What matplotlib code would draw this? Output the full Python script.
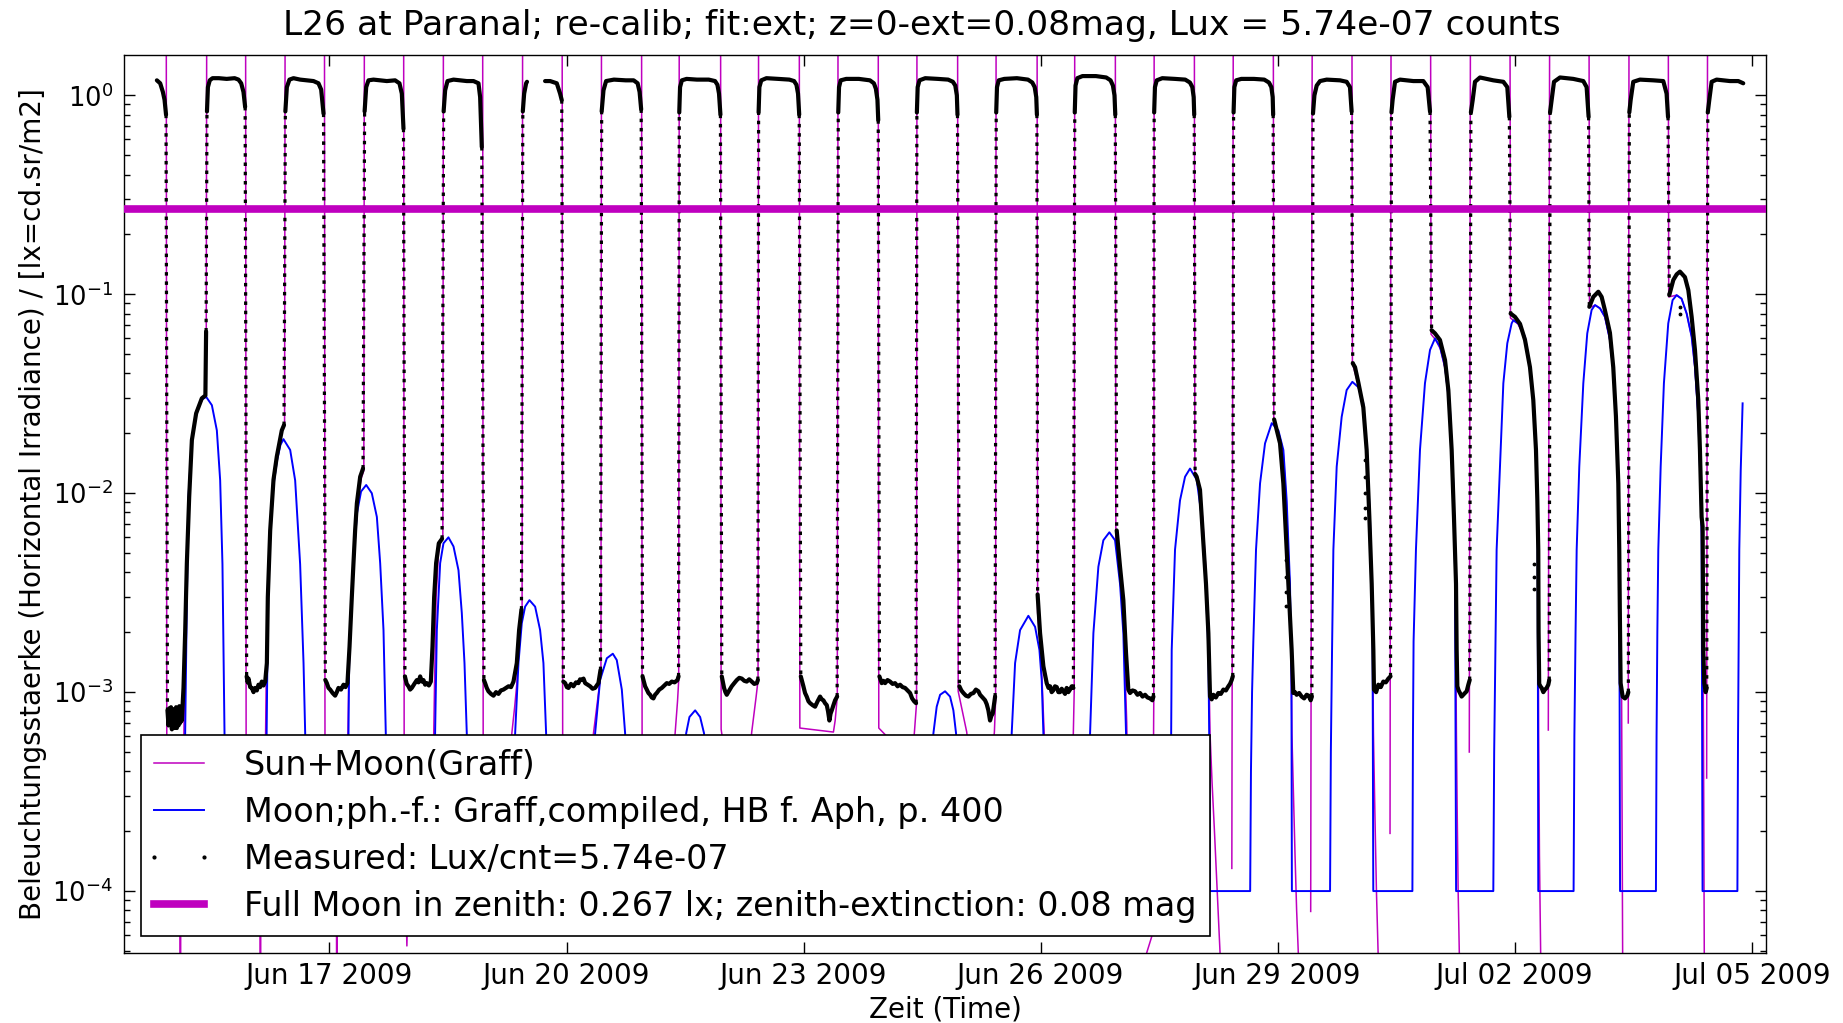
import numpy as np
import matplotlib
matplotlib.use("Agg")
import matplotlib.pyplot as plt
import matplotlib.dates as mdates
from matplotlib.lines import Line2D
from matplotlib.legend_handler import HandlerLine2D
from datetime import datetime

nan = float("nan")

# ---------------------------------------------------------------- texts
TITLE = "L26 at Paranal; re-calib; fit:ext; z=0-ext=0.08mag, Lux = 5.74e-07 counts"
XLABEL = "Zeit (Time)"
YLABEL = "Beleuchtungsstaerke (Horizontal Irradiance) / [lx=cd.sr/m2]"
LABEL_SUNMOON = "Sun+Moon(Graff)"
LABEL_MOON = "Moon;ph.-f.: Graff,compiled, HB f. Aph, p. 400"
LABEL_MEAS = "Measured: Lux/cnt=5.74e-07"
LABEL_FULL = "Full Moon in zenith: 0.267 lx; zenith-extinction: 0.08 mag"

TICK_DATES = [datetime(2009, 6, 17), datetime(2009, 6, 20), datetime(2009, 6, 23),
              datetime(2009, 6, 26), datetime(2009, 6, 29), datetime(2009, 7, 2),
              datetime(2009, 7, 5)]
FULL_MOON_LUX = 0.267

# time values: days since 2009-06-14 00:00 UTC
T0 = datetime(2009, 6, 14)
X_RANGE_DAYS = (0.40, 21.18)
Y_RANGE = (4.9e-5, 1.59)

# ---------------------------------------------------------------- measured (lux)
MEASURED = [
    (0.816, 1.19), (0.858, 1.15), (0.892, 1.04), (0.913, 0.95), (0.932, 0.80),
    (0.950, 8.1e-4), (0.963, 6.8e-4), (0.974, 8.3e-4), (0.984, 7.0e-4), (0.995, 8.4e-4),
    (1.006, 6.5e-4), (1.017, 7.6e-4), (1.027, 8.2e-4), (1.038, 6.6e-4), (1.048, 7.3e-4),
    (1.059, 8.4e-4), (1.069, 6.6e-4), (1.080, 7.6e-4), (1.090, 6.8e-4), (1.100, 8.5e-4),
    (1.111, 7.0e-4), (1.122, 8.0e-4), (1.132, 7.2e-4),
    (1.153, 1.05e-3), (1.174, 2.0e-3), (1.195, 4.4e-3), (1.225, 9.6e-3), (1.259, 0.0185),
    (1.313, 0.0252), (1.385, 0.030), (1.430, 0.031), (1.439, 0.065),
    (1.450, 0.83), (1.462, 1.10), (1.485, 1.19), (1.52, 1.22), (1.60, 1.22), (1.70, 1.21),
    (1.80, 1.22), (1.849, 1.20), (1.883, 1.15), (1.912, 1.04), (1.933, 0.875),
    (1.952, 1.2e-3), (1.965, 1.12e-3), (1.976, 1.17e-3), (1.997, 1.06e-3), (2.018, 1.05e-3),
    (2.039, 1.0e-3), (2.060, 1.05e-3), (2.081, 1.02e-3), (2.102, 1.09e-3), (2.123, 1.06e-3),
    (2.144, 1.13e-3), (2.165, 1.08e-3), (2.187, 1.13e-3), (2.208, 1.40e-3), (2.220, 3.0e-3),
    (2.250, 6.5e-3), (2.292, 0.0117), (2.334, 0.0153), (2.397, 0.0207), (2.425, 0.022),
    (2.442, 0.83), (2.461, 1.10), (2.494, 1.20), (2.545, 1.22), (2.629, 1.20), (2.714, 1.19),
    (2.798, 1.18), (2.861, 1.15), (2.895, 1.07), (2.925, 0.81),
    (2.948, 1.15e-3), (2.967, 1.11e-3), (2.988, 1.05e-3), (3.009, 1.03e-3), (3.040, 9.9e-4),
    (3.072, 9.6e-4), (3.093, 1.0e-3), (3.114, 1.05e-3), (3.146, 1.03e-3), (3.178, 1.09e-3),
    (3.203, 1.06e-3), (3.228, 1.11e-3), (3.254, 1.69e-3), (3.283, 3.0e-3), (3.304, 4.45e-3),
    (3.325, 6.5e-3), (3.347, 8.9e-3), (3.389, 0.0121), (3.425, 0.0133),
    (3.445, 0.83), (3.465, 1.10), (3.494, 1.19), (3.557, 1.20), (3.642, 1.19), (3.726, 1.18),
    (3.831, 1.19), (3.886, 1.15), (3.916, 1.02), (3.937, 0.68),
    (3.955, 1.2e-3), (3.978, 1.1e-3), (4.000, 1.07e-3), (4.021, 1.03e-3), (4.042, 1.05e-3),
    (4.074, 1.1e-3), (4.106, 1.15e-3), (4.127, 1.12e-3), (4.148, 1.2e-3), (4.169, 1.13e-3),
    (4.190, 1.15e-3), (4.211, 1.09e-3), (4.232, 1.11e-3), (4.258, 1.08e-3), (4.283, 1.13e-3),
    (4.304, 1.69e-3), (4.325, 3.0e-3), (4.350, 4.45e-3), (4.384, 5.6e-3), (4.425, 5.9e-3),
    (4.445, 0.83), (4.464, 1.06), (4.494, 1.18), (4.570, 1.20), (4.654, 1.19), (4.738, 1.18),
    (4.823, 1.18), (4.886, 1.15), (4.907, 0.98), (4.928, 0.55),
    (4.955, 1.15e-3), (4.970, 1.11e-3), (4.991, 1.05e-3), (5.012, 1.01e-3), (5.044, 9.8e-4),
    (5.076, 9.6e-4), (5.108, 1.0e-3), (5.139, 9.8e-4), (5.170, 1.02e-3), (5.202, 1.03e-3),
    (5.234, 1.05e-3), (5.266, 1.07e-3), (5.298, 1.06e-3), (5.329, 1.13e-3), (5.371, 1.40e-3),
    (5.400, 2.05e-3), (5.430, 2.6e-3),
    (5.447, 0.83), (5.464, 1.02), (5.489, 1.15), (5.500, 1.17), (nan, nan),
    (5.729, 1.18), (5.793, 1.18), (5.877, 1.15), (5.919, 1.02), (5.940, 0.946),
    (5.960, 1.13e-3), (5.983, 1.11e-3), (6.004, 1.06e-3), (6.025, 1.05e-3), (6.056, 1.1e-3),
    (6.088, 1.07e-3), (6.120, 1.12e-3), (6.151, 1.11e-3), (6.172, 1.16e-3), (6.193, 1.15e-3),
    (6.215, 1.17e-3), (6.236, 1.11e-3), (6.268, 1.09e-3), (6.299, 1.07e-3), (6.330, 1.04e-3),
    (6.362, 1.05e-3), (6.383, 1.08e-3), (6.404, 1.11e-3), (6.430, 1.29e-3),
    (6.445, 0.83), (6.468, 1.06), (6.501, 1.18), (6.60, 1.20), (6.75, 1.19), (6.85, 1.19),
    (6.90, 1.15), (6.925, 1.04), (6.945, 0.85),
    (6.962, 1.2e-3), (6.974, 1.15e-3), (6.995, 1.07e-3), (7.016, 1.03e-3), (7.037, 9.9e-4),
    (7.058, 9.7e-4), (7.079, 9.4e-4), (7.100, 9.3e-4), (7.121, 9.7e-4), (7.142, 9.9e-4),
    (7.174, 1.03e-3), (7.206, 1.05e-3), (7.238, 1.08e-3), (7.269, 1.11e-3), (7.300, 1.1e-3),
    (7.332, 1.13e-3), (7.368, 1.12e-3), (7.404, 1.15e-3), (7.418, 1.2e-3),
    (7.427, 0.82), (7.437, 1.10), (7.46, 1.19), (7.52, 1.21), (7.65, 1.20), (7.80, 1.20),
    (7.88, 1.18), (7.91, 1.13), (7.93, 1.02), (7.948, 0.80),
    (7.965, 1.2e-3), (7.994, 1.05e-3), (8.011, 1.0e-3), (8.028, 9.7e-4), (8.060, 1.02e-3),
    (8.091, 1.07e-3), (8.123, 1.11e-3), (8.155, 1.15e-3), (8.187, 1.18e-3), (8.218, 1.17e-3),
    (8.250, 1.14e-3), (8.281, 1.13e-3), (8.312, 1.16e-3), (8.344, 1.13e-3), (8.376, 1.1e-3),
    (8.408, 1.11e-3), (8.422, 1.15e-3),
    (8.431, 0.82), (8.441, 1.10), (8.465, 1.19), (8.53, 1.22), (8.68, 1.21), (8.82, 1.20),
    (8.88, 1.18), (8.91, 1.13), (8.93, 1.02), (8.945, 0.80),
    (8.965, 1.2e-3), (8.998, 1.07e-3), (9.019, 9.9e-4), (9.040, 9.5e-4), (9.062, 9.0e-4),
    (9.083, 8.8e-4), (9.115, 8.6e-4), (9.146, 8.45e-4), (9.178, 9.0e-4), (9.209, 9.5e-4),
    (9.230, 9.2e-4), (9.251, 9.1e-4), (9.272, 8.8e-4), (9.294, 8.6e-4), (9.310, 8.0e-4),
    (9.327, 7.2e-4), (9.342, 7.8e-4), (9.357, 8.1e-4), (9.378, 8.6e-4), (9.399, 9.1e-4),
    (9.425, 9.5e-4),
    (9.439, 0.82), (9.449, 1.10), (9.47, 1.19), (9.54, 1.21), (9.70, 1.21), (9.84, 1.19),
    (9.89, 1.15), (9.915, 1.08), (9.935, 0.95), (9.945, 0.75),
    (9.960, 1.2e-3), (9.989, 1.11e-3), (10.011, 1.14e-3), (10.032, 1.11e-3), (10.063, 1.15e-3),
    (10.095, 1.13e-3), (10.127, 1.1e-3), (10.158, 1.11e-3), (10.190, 1.07e-3), (10.221, 1.09e-3),
    (10.253, 1.06e-3), (10.285, 1.05e-3), (10.316, 1.02e-3), (10.348, 9.9e-4), (10.374, 9.3e-4),
    (10.399, 9.0e-4), (10.424, 8.8e-4),
    (10.434, 0.82), (10.444, 1.10), (10.467, 1.19), (10.54, 1.22), (10.70, 1.21), (10.83, 1.20),
    (10.89, 1.17), (10.92, 1.12), (10.94, 1.0), (10.948, 0.80),
    (10.972, 1.07e-3), (10.997, 1.02e-3), (11.023, 9.9e-4), (11.055, 9.6e-4), (11.086, 9.5e-4),
    (11.118, 9.8e-4), (11.150, 9.9e-4), (11.181, 1.03e-3), (11.213, 1.01e-3), (11.234, 9.7e-4),
    (11.255, 9.5e-4), (11.276, 9.3e-4), (11.297, 9.1e-4), (11.318, 8.7e-4), (11.339, 8.1e-4),
    (11.360, 7.2e-4), (11.377, 7.6e-4), (11.394, 7.8e-4), (11.424, 9.5e-4),
    (11.438, 0.82), (11.448, 1.10), (11.47, 1.19), (11.54, 1.21), (11.70, 1.22), (11.84, 1.20),
    (11.895, 1.16), (11.925, 1.10), (11.945, 0.98), (11.953, 0.80),
    (11.962, 3.1e-3), (11.993, 1.98e-3), (12.035, 1.35e-3), (12.077, 1.11e-3), (12.100, 1.05e-3),
    (12.120, 1.07e-3), (12.140, 1.0e-3), (12.160, 1.02e-3), (12.182, 1.07e-3), (12.204, 1.06e-3),
    (12.225, 1.0e-3), (12.246, 1.0e-3), (12.267, 1.04e-3), (12.288, 1.01e-3), (12.309, 9.8e-4),
    (12.330, 1.05e-3), (12.351, 1.0e-3), (12.372, 1.03e-3), (12.394, 1.07e-3), (12.415, 1.05e-3),
    (12.432, 0.82), (12.442, 1.12), (12.465, 1.22), (12.53, 1.25), (12.70, 1.25), (12.83, 1.23),
    (12.885, 1.19), (12.915, 1.12), (12.935, 1.0), (12.945, 0.80),
    (12.963, 6.5e-3), (13.005, 4.27e-3), (13.047, 2.9e-3), (13.081, 1.57e-3), (13.110, 1.03e-3),
    (13.132, 9.9e-4), (13.163, 1.02e-3), (13.195, 1.01e-3), (13.226, 9.7e-4), (13.258, 9.9e-4),
    (13.290, 9.5e-4), (13.322, 9.7e-4), (13.353, 9.4e-4), (13.385, 9.3e-4), (13.414, 9.1e-4),
    (13.428, 9.5e-4),
    (13.437, 0.82), (13.447, 1.10), (13.47, 1.19), (13.54, 1.22), (13.70, 1.21), (13.83, 1.20),
    (13.89, 1.16), (13.92, 1.10), (13.937, 0.98), (13.944, 0.80),
    (13.955, 0.0125), (13.975, 0.0121), (14.017, 0.0104), (14.060, 5.6e-3), (14.093, 3.5e-3),
    (14.123, 1.98e-3), (14.144, 9.5e-4), (14.165, 9.2e-4), (14.186, 9.7e-4), (14.218, 9.4e-4),
    (14.249, 9.9e-4), (14.281, 9.8e-4), (14.313, 1.03e-3), (14.345, 1.02e-3), (14.376, 1.07e-3),
    (14.397, 1.1e-3), (14.418, 1.15e-3), (14.432, 1.2e-3),
    (14.442, 0.82), (14.452, 1.10), (14.475, 1.19), (14.54, 1.21), (14.70, 1.21), (14.83, 1.20),
    (14.89, 1.16), (14.92, 1.10), (14.937, 0.98), (14.943, 0.80),
    (14.955, 0.0235), (15.030, 0.0178), (15.072, 0.0112), (15.114, 5.2e-3), (15.156, 2.4e-3),
    (15.177, 1.63e-3), (15.198, 9.9e-4), (15.219, 1.0e-3), (15.240, 9.7e-4), (15.272, 9.9e-4),
    (15.304, 9.5e-4), (15.335, 9.3e-4), (15.367, 9.7e-4), (15.392, 9.6e-4), (15.418, 9.1e-4),
    (15.433, 9.5e-4),
    (15.447, 0.81), (15.465, 1.0), (15.494, 1.12), (15.536, 1.18), (15.62, 1.20), (15.789, 1.19),
    (15.873, 1.17), (15.915, 1.10), (15.936, 0.83),
    (15.950, 0.045), (15.979, 0.043), (16.021, 0.036), (16.084, 0.027), (16.126, 0.0165),
    (16.160, 7.6e-3), (16.190, 3.5e-3), (16.211, 1.63e-3), (16.219, 1.03e-3), (16.246, 1.0e-3),
    (16.274, 1.09e-3), (16.305, 1.06e-3), (16.337, 1.13e-3), (16.369, 1.12e-3), (16.401, 1.17e-3),
    (16.428, 1.2e-3),
    (16.440, 0.82), (16.455, 0.95), (16.485, 1.17), (16.548, 1.20), (16.717, 1.18), (16.843, 1.18),
    (16.898, 1.10), (16.928, 0.83),
    (16.948, 0.066), (16.991, 0.0636), (17.054, 0.0589), (17.118, 0.0467), (17.160, 0.033),
    (17.202, 0.0165), (17.231, 7.6e-3), (17.257, 3.5e-3), (17.265, 1.63e-3), (17.274, 1.07e-3),
    (17.290, 1.02e-3), (17.307, 9.9e-4), (17.328, 9.5e-4), (17.349, 9.7e-4), (17.370, 9.9e-4),
    (17.392, 1.01e-3), (17.413, 1.09e-3), (17.430, 1.15e-3),
    (17.445, 0.82), (17.468, 0.946), (17.497, 1.17), (17.56, 1.23), (17.729, 1.19), (17.856, 1.17),
    (17.906, 1.10), (17.932, 0.78),
    (17.948, 0.080), (18.003, 0.077), (18.067, 0.071), (18.130, 0.059), (18.193, 0.043),
    (18.235, 0.0294), (18.269, 0.0165), (18.286, 9.3e-3), (18.298, 5.2e-3), (18.302, 2.0e-3),
    (18.310, 1.1e-3), (18.325, 1.07e-3), (18.341, 1.05e-3), (18.362, 1.0e-3), (18.383, 1.03e-3),
    (18.404, 1.05e-3), (18.425, 1.09e-3), (18.437, 1.15e-3),
    (18.447, 0.82), (18.467, 0.946), (18.497, 1.17), (18.573, 1.23), (18.741, 1.21), (18.868, 1.18),
    (18.910, 1.10), (18.935, 0.78),
    (18.944, 0.0865), (18.994, 0.097), (19.058, 0.103), (19.100, 0.097), (19.142, 0.083),
    (19.205, 0.064), (19.247, 0.043), (19.281, 0.0243), (19.311, 0.0112), (19.323, 5.2e-3),
    (19.330, 2.59e-3), (19.340, 1.11e-3), (19.366, 9.5e-4), (19.395, 9.3e-4), (19.425, 9.6e-4),
    (19.438, 1.0e-3),
    (19.450, 0.82), (19.467, 0.946), (19.500, 1.17), (19.585, 1.20), (19.754, 1.19), (19.880, 1.18),
    (19.922, 1.02), (19.940, 0.78),
    (19.956, 0.099), (20.007, 0.118), (20.050, 0.126), (20.091, 0.130), (20.154, 0.122),
    (20.197, 0.105), (20.239, 0.077), (20.281, 0.0525), (20.323, 0.0294), (20.344, 0.0165),
    (20.365, 7.6e-3), (20.378, 6.8e-3), (20.386, 1.63e-3), (20.399, 1.11e-3), (20.416, 1.0e-3),
    (20.430, 1.05e-3),
    (20.443, 0.82), (20.462, 0.946), (20.492, 1.17), (20.555, 1.20), (20.724, 1.18), (20.829, 1.18),
    (20.892, 1.15),
]

# isolated measured samples that sit off the main trace
MEASURED_STRAY = [
    (15.100, 4.6e-3), (15.100, 3.8e-3), (15.105, 3.2e-3), (15.107, 2.7e-3),
    (16.105, 0.0147), (16.105, 0.012), (16.107, 1.0e-2), (16.107, 8.4e-3), (16.110, 7.5e-3),
    (18.240, 4.4e-3), (18.242, 3.8e-3), (18.244, 3.3e-3),
    (20.091, 0.0865), (20.091, 0.080),
]

# ---------------------------------------------------------------- moon model (lux)
MOON = [
    (0.816, 1e-4), (1.155, 1e-4), (1.165, 3e-4), (1.174, 6.2e-4), (1.196, 3.0e-3), (1.216, 9.6e-3),
    (1.259, 0.0185), (1.322, 0.0262), (1.380, 0.0295), (1.440, 0.0305), (1.512, 0.0277),
    (1.575, 0.0207), (1.617, 0.0116), (1.646, 4.4e-3), (1.672, 6.2e-4), (1.680, 1e-4),
    (2.195, 1e-4), (2.205, 6.2e-4), (2.215, 1.5e-3), (2.225, 3.0e-3), (2.250, 6.0e-3),
    (2.290, 0.0108), (2.335, 0.0145), (2.380, 0.0175), (2.418, 0.0187), (2.503, 0.0165),
    (2.566, 0.0116), (2.629, 4.4e-3), (2.672, 1.4e-3), (2.693, 6.2e-4), (2.700, 1e-4),
    (3.233, 1e-4), (3.241, 6.2e-4), (3.250, 1.5e-3), (3.280, 3.0e-3), (3.310, 5.0e-3),
    (3.350, 8.0e-3), (3.400, 0.0102), (3.465, 0.011), (3.536, 0.010), (3.600, 7.6e-3),
    (3.642, 4.45e-3), (3.684, 2.05e-3), (3.713, 6.2e-4), (3.720, 1e-4),
    (4.330, 1e-4), (4.337, 6.2e-4), (4.359, 2.05e-3), (4.401, 4.45e-3), (4.443, 5.6e-3),
    (4.506, 6.0e-3), (4.570, 5.4e-3), (4.633, 4.1e-3), (4.675, 2.5e-3), (4.709, 1.4e-3),
    (4.738, 6.2e-4), (4.745, 1e-4),
    (5.343, 1e-4), (5.350, 6.2e-4), (5.392, 1.4e-3), (5.434, 2.22e-3), (5.476, 2.69e-3),
    (5.531, 2.9e-3), (5.603, 2.69e-3), (5.666, 2.05e-3), (5.708, 1.4e-3), (5.742, 6.2e-4),
    (5.750, 1e-4),
    (6.355, 1e-4), (6.362, 6.2e-4), (6.425, 1.15e-3), (6.510, 1.48e-3), (6.586, 1.56e-3),
    (6.636, 1.45e-3), (6.700, 1.03e-3), (6.742, 6.2e-4), (6.750, 1e-4),
    (7.505, 1e-4), (7.514, 6.2e-4), (7.556, 7.5e-4), (7.628, 8.1e-4), (7.691, 7.5e-4),
    (7.741, 6.2e-4), (7.750, 1e-4),
    (10.635, 1e-4), (10.643, 6.2e-4), (10.685, 8.45e-4), (10.728, 9.7e-4), (10.791, 1.01e-3),
    (10.854, 9.5e-4), (10.896, 8.1e-4), (10.930, 6.2e-4), (10.940, 1e-4),
    (11.625, 1e-4), (11.634, 6.2e-4), (11.677, 1.4e-3), (11.740, 2.05e-3), (11.845, 2.42e-3),
    (11.930, 2.13e-3), (11.985, 1.63e-3), (12.014, 1.15e-3), (12.035, 6.2e-4), (12.045, 1e-4),
    (12.615, 1e-4), (12.626, 6.2e-4), (12.668, 1.98e-3), (12.731, 4.27e-3), (12.794, 5.8e-3),
    (12.870, 6.36e-3), (12.942, 5.8e-3), (13.005, 3.5e-3), (13.047, 1.98e-3), (13.081, 6.2e-4),
    (13.090, 1e-4),
    (13.645, 1e-4), (13.652, 6e-4), (13.659, 1.63e-3), (13.701, 5.2e-3), (13.764, 9.2e-3),
    (13.828, 0.0121), (13.891, 0.0133), (13.975, 0.0117), (14.039, 7.6e-3), (14.081, 4.27e-3),
    (14.123, 1.63e-3), (14.138, 4e-4), (14.144, 1e-4),
    (14.652, 1e-4), (14.662, 4e-4), (14.676, 1.0e-3), (14.692, 1.8e-3), (14.726, 5.2e-3),
    (14.777, 0.0112), (14.840, 0.0178), (14.925, 0.0225), (15.009, 0.0207), (15.072, 0.0165),
    (15.114, 9.2e-3), (15.156, 3.5e-3), (15.174, 1.2e-3), (15.180, 1e-4),
    (15.663, 1e-4), (15.673, 5e-4), (15.688, 1.6e-3), (15.705, 5.2e-3), (15.747, 0.0136),
    (15.810, 0.0242), (15.873, 0.033), (15.945, 0.0363), (16.021, 0.0341), (16.084, 0.0283),
    (16.126, 0.0165), (16.168, 7.6e-3), (16.200, 2.4e-3), (16.210, 1e-4),
    (16.705, 1e-4), (16.712, 6e-4), (16.720, 1.8e-3), (16.750, 5.2e-3), (16.801, 0.0165),
    (16.864, 0.0357), (16.928, 0.0525), (16.991, 0.060), (17.054, 0.0545), (17.118, 0.0432),
    (17.181, 0.0262), (17.223, 0.0112), (17.244, 4.27e-3), (17.258, 1e-4),
    (17.729, 1e-4), (17.740, 5e-4), (17.755, 1.6e-3), (17.771, 5.2e-3), (17.805, 0.0112),
    (17.856, 0.0357), (17.906, 0.0567), (17.961, 0.0714), (17.982, 0.074), (18.045, 0.0714),
    (18.130, 0.0612), (18.193, 0.043), (18.235, 0.0294), (18.269, 0.0165), (18.290, 7.6e-3),
    (18.298, 1e-4),
    (18.745, 1e-4), (18.755, 6e-4), (18.770, 2.0e-3), (18.784, 5.2e-3), (18.817, 0.0136),
    (18.868, 0.0357), (18.918, 0.0636), (18.973, 0.0834), (19.016, 0.0883), (19.079, 0.085),
    (19.142, 0.077), (19.205, 0.059), (19.247, 0.0416), (19.281, 0.0243), (19.311, 0.0112),
    (19.323, 5.2e-3), (19.333, 1e-4),
    (19.787, 1e-4), (19.795, 6e-4), (19.805, 2.0e-3), (19.817, 5.2e-3), (19.847, 0.0136),
    (19.888, 0.0357), (19.943, 0.0714), (19.998, 0.0935), (20.049, 0.099), (20.112, 0.095),
    (20.176, 0.080), (20.239, 0.0612), (20.281, 0.043), (20.323, 0.0243), (20.344, 0.0136),
    (20.365, 6.3e-3), (20.377, 1e-4),
    (20.818, 1e-4), (20.826, 6e-4), (20.835, 2.0e-3), (20.842, 5.2e-3), (20.860, 0.013),
    (20.884, 0.0283),
]

# ---------------------------------------------------------------- sun + moon model (lux)
SUN_MOON = [
    (0.816, 10), (0.934, 10), (0.942, 3e-4),
    (1.108, 1.2e-4), (1.113, 1e-6), (1.118, 1.2e-4), (1.150, 3.5e-4), (1.165, 1.0e-3),
    (1.190, 4.0e-3), (1.220, 1.0e-2), (1.260, 0.019), (1.320, 0.026), (1.400, 0.030),
    (1.440, 0.031), (1.449, 10),
    (1.938, 10), (1.946, 3e-4), (2.121, 1.2e-4), (2.126, 1e-6), (2.131, 1.2e-4), (2.185, 3.5e-4),
    (2.200, 1.2e-3), (2.215, 2.8e-3), (2.250, 6.3e-3), (2.290, 0.0113), (2.335, 0.015),
    (2.400, 0.0205), (2.432, 0.022), (2.441, 10),
    (2.936, 10), (2.944, 3e-4), (3.089, 1.2e-4), (3.094, 1e-6), (3.099, 1.2e-4), (3.225, 3.5e-4),
    (3.245, 1.2e-3), (3.280, 2.9e-3), (3.310, 5.0e-3), (3.350, 8.5e-3), (3.400, 0.0118),
    (3.435, 0.013), (3.444, 10),
    (3.938, 10), (3.946, 3e-4), (3.965, 1.0e-4), (3.980, 5.3e-5), (3.995, 1.0e-4), (4.100, 1.6e-4),
    (4.310, 3.5e-4), (4.330, 1.1e-3), (4.350, 3.0e-3), (4.380, 5.0e-3), (4.410, 5.8e-3),
    (4.435, 6.0e-3), (4.444, 10),
    (4.938, 10), (4.946, 3e-4), (5.100, 1.6e-4), (5.290, 4e-4), (5.308, 6.2e-4), (5.345, 8.5e-4),
    (5.371, 1.1e-3), (5.400, 1.9e-3), (5.425, 2.5e-3), (5.438, 2.7e-3), (5.446, 10),
    (5.944, 10), (5.952, 3e-4), (6.150, 2e-4), (6.330, 5e-4), (6.341, 6.2e-4), (6.380, 8.3e-4),
    (6.425, 1.15e-3), (6.436, 1.3e-3), (6.444, 10),
    (6.949, 10), (6.957, 4e-4), (7.150, 4.5e-4), (7.360, 5.2e-4), (7.374, 6.2e-4), (7.405, 9e-4),
    (7.420, 1.15e-3), (7.428, 10),
    (7.949, 10), (7.957, 6.5e-4), (7.970, 6.0e-4), (8.100, 4e-4), (8.330, 5.5e-4), (8.344, 6.3e-4),
    (8.400, 9.5e-4), (8.424, 1.15e-3), (8.432, 10),
    (8.945, 10), (8.953, 6.6e-4), (9.378, 6.3e-4), (9.400, 7.2e-4), (9.427, 9.5e-4), (9.438, 10),
    (9.944, 10), (9.952, 6.6e-4), (9.968, 6.5e-4), (10.053, 6.0e-4), (10.100, 4.5e-4),
    (10.390, 5.5e-4), (10.403, 6.3e-4), (10.430, 8.8e-4), (10.436, 10),
    (10.948, 10), (10.957, 1.01e-3), (11.065, 6.3e-4), (11.100, 4.5e-4), (11.400, 5.5e-4),
    (11.415, 6.3e-4), (11.430, 9e-4), (11.438, 10),
    (11.954, 10), (11.962, 2.5e-3), (11.990, 1.8e-3), (12.020, 1.1e-3), (12.045, 6.2e-4),
    (12.060, 3.5e-4), (12.100, 2e-4), (12.390, 4.5e-4), (12.414, 6.2e-4), (12.425, 1.0e-3),
    (12.433, 10),
    (12.944, 10), (12.952, 6.0e-3), (13.000, 4.0e-3), (13.050, 2.2e-3), (13.090, 7e-4),
    (13.110, 2.5e-4), (13.130, 1.2e-4), (nan, nan),
    (13.330, 4.0e-5), (13.343, 4.9e-5), (13.406, 5.9e-5), (13.420, 1.5e-4), (13.432, 9e-4),
    (13.438, 10),
    (13.944, 10), (13.952, 0.0125), (14.000, 0.0115), (14.050, 7.5e-3), (14.090, 4.2e-3),
    (14.123, 1.8e-3), (14.144, 6.2e-4), (14.170, 3.5e-4), (14.200, 2.0e-4), (14.230, 1.1e-4),
    (14.255, 6.5e-5), (14.275, 4.5e-5), (14.290, 1e-6), (nan, nan),
    (14.420, 1.3e-4), (14.441, 10),
    (14.943, 10), (14.951, 0.023), (15.010, 0.020), (15.070, 0.016), (15.110, 9.0e-3),
    (15.150, 3.6e-3), (15.172, 1.4e-3), (15.180, 6.2e-4), (15.200, 3.0e-4), (15.220, 1.5e-4),
    (15.240, 8.0e-5), (15.262, 4.8e-5), (15.275, 1e-6), (nan, nan),
    (15.418, 7.9e-5), (15.440, 10),
    (15.938, 10), (15.946, 0.045), (16.020, 0.035), (16.080, 0.027), (16.125, 0.016),
    (16.165, 7.5e-3), (16.200, 2.2e-3), (16.212, 6.2e-4), (16.230, 2.5e-4), (16.250, 1.0e-4),
    (16.273, 4.6e-5), (16.285, 1e-6), (nan, nan),
    (16.422, 1.95e-4), (16.437, 10),
    (16.933, 10), (16.941, 0.063), (17.000, 0.059), (17.060, 0.053), (17.120, 0.042),
    (17.180, 0.026), (17.220, 0.011), (17.245, 4.0e-3), (17.257, 1.2e-3), (17.262, 6.2e-4),
    (17.272, 2.5e-4), (17.284, 1.0e-4), (17.300, 4.6e-5), (17.310, 1e-6), (nan, nan),
    (17.425, 5.0e-4), (17.442, 10),
    (17.938, 10), (17.946, 0.076), (18.040, 0.071), (18.130, 0.060), (18.190, 0.043),
    (18.235, 0.029), (18.268, 0.016), (18.290, 7.5e-3), (18.298, 2.0e-3), (18.303, 6.2e-4),
    (18.313, 1.5e-4), (18.329, 4.6e-5), (18.335, 1e-6), (nan, nan),
    (18.425, 6.45e-4), (18.445, 10),
    (18.938, 10), (18.946, 0.086), (19.020, 0.088), (19.080, 0.085), (19.140, 0.077),
    (19.200, 0.060), (19.245, 0.042), (19.280, 0.024), (19.310, 0.011), (19.323, 5.0e-3),
    (19.337, 2.0e-3), (19.353, 9.0e-4), (19.360, 2.0e-4), (19.366, 4.6e-5), (19.370, 1e-6),
    (nan, nan),
    (19.437, 7.0e-4), (19.448, 10),
    (19.941, 10), (19.949, 0.097), (20.050, 0.099), (20.110, 0.095), (20.176, 0.080),
    (20.240, 0.061), (20.280, 0.043), (20.323, 0.024), (20.344, 0.0136), (20.365, 6.3e-3),
    (20.378, 2.2e-3), (20.386, 1.1e-3), (20.392, 3.0e-4), (20.399, 4.6e-5), (20.402, 1e-6),
    (nan, nan),
    (20.429, 3.7e-4), (20.442, 10), (20.892, 10),
]

# ---------------------------------------------------------------- figure
BASE = mdates.date2num(T0)


def unzip(pairs):
    t = np.array([p[0] for p in pairs], dtype=float)
    v = np.array([p[1] for p in pairs], dtype=float)
    return BASE + t, v


W, H = 1843, 1023
fig = plt.figure(figsize=(W / 100, H / 100), dpi=100)
ax = fig.add_axes([124 / W, 1 - 952.7 / H, (1766 - 124) / W, (952.7 - 55.3) / H])
ax.set_yscale("log")

MAG = (0.75, 0.0, 0.75)

xs, ys = unzip(SUN_MOON)
ln_sm, = ax.plot(xs, ys, color=MAG, lw=1.1, zorder=2)

xm, ym = unzip(MOON)
ln_moon, = ax.plot(xm, ym, color="b", lw=1.4, zorder=3)

# measured: steady parts as a continuous trace, twilight jumps as dotted sample rows
xt, yt = unzip(MEASURED)
lv = np.log10(yt)
runs = []
for i in range(len(xt) - 1):
    if not (np.isfinite(yt[i]) and np.isfinite(yt[i + 1])):
        continue
    st = "twilight" if abs(lv[i + 1] - lv[i]) > 0.8 else "steady"
    if runs and runs[-1][0] == st and runs[-1][3] == i:
        runs[-1][1].append(xt[i + 1]); runs[-1][2].append(yt[i + 1]); runs[-1][3] = i + 1
    else:
        runs.append([st, [xt[i], xt[i + 1]], [yt[i], yt[i + 1]], i + 1])
for st, rx, ry, _ in runs:
    if st == "steady":
        ax.plot(rx, ry, color="k", lw=3.0, zorder=4, solid_capstyle="round",
                solid_joinstyle="round")
    else:
        ax.plot(rx, ry, color="k", lw=2.3, zorder=4, linestyle=(0, (1.1, 1.8)),
                dash_capstyle="butt")
xo, yo = unzip(MEASURED_STRAY)
ax.plot(xo, yo, ls="none", marker=".", color="k", ms=3.5, zorder=4)

ln_full = ax.axhline(FULL_MOON_LUX, color=MAG, lw=5.5, zorder=5)

ax.set_xlim(BASE + X_RANGE_DAYS[0], BASE + X_RANGE_DAYS[1])
ax.set_ylim(*Y_RANGE)
ax.set_xticks(mdates.date2num(TICK_DATES))
ax.xaxis.set_major_formatter(mdates.DateFormatter("%b %d %Y"))
ax.xaxis.set_minor_locator(matplotlib.ticker.NullLocator())

ax.tick_params(which="both", direction="in", top=True, right=True, width=1.0)
ax.tick_params(which="major", length=8)
ax.tick_params(axis="x", which="major", pad=7, labelsize=20)
ax.tick_params(axis="y", which="major", pad=8, labelsize=18.5)
ax.tick_params(which="minor", length=4)
for sp in ax.spines.values():
    sp.set_linewidth(1.0)

fig.suptitle(TITLE, fontsize=24.8, x=0.5, y=1 - 25.8 / H, va="center")
ax.set_xlabel(XLABEL, fontsize=20, labelpad=4)
ax.set_ylabel(YLABEL, fontsize=20)
ax.yaxis.set_label_coords(-0.047, 0.5)

meas_handle = Line2D([], [], ls="none", marker=".", color="k", ms=4)
leg = ax.legend([ln_sm, ln_moon, meas_handle, ln_full],
                [LABEL_SUNMOON, LABEL_MOON, LABEL_MEAS, LABEL_FULL],
                loc="lower left", fontsize=24, frameon=True, fancybox=False,
                framealpha=1.0, edgecolor="black", handlelength=1.5,
                handletextpad=1.2, labelspacing=0.42, borderpad=0.4,
                borderaxespad=0.5,
                handler_map={meas_handle: HandlerLine2D(numpoints=2, marker_pad=0.0)})
leg.get_frame().set_linewidth(1.2)
leg.set_zorder(10)

fig.savefig("out.png", dpi=100)
